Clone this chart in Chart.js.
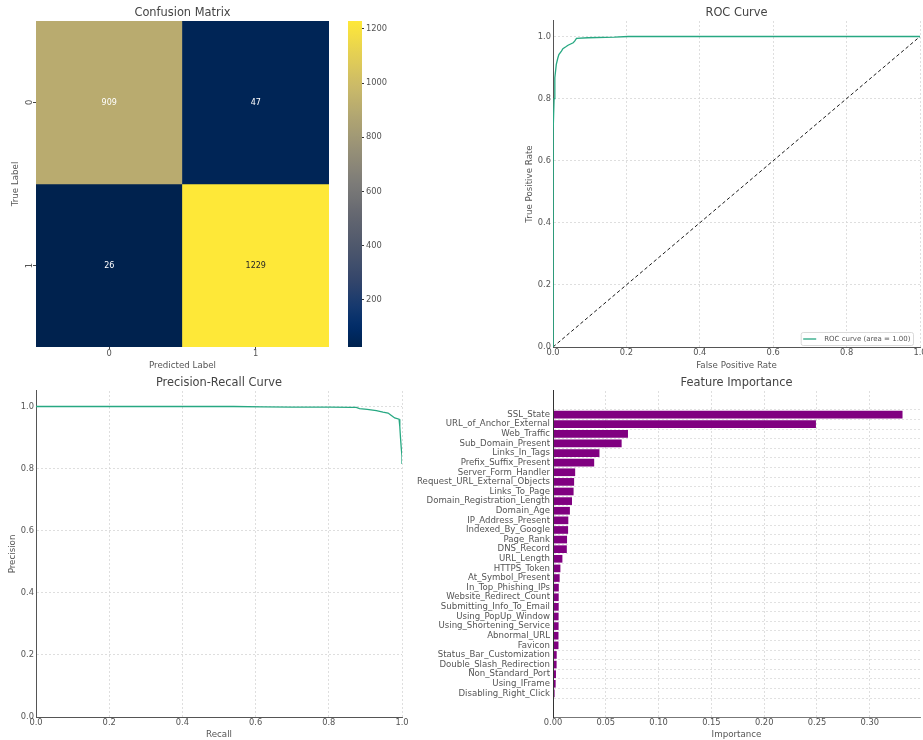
<!DOCTYPE html>
<html>
<head>
<meta charset="utf-8">
<script src="https://cdn.jsdelivr.net/npm/chart.js@4.4.1/dist/chart.umd.min.js"></script>
<style>
  html, body { margin: 0; padding: 0; background: #fff; }
  #board { position: relative; width: 923px; height: 740px; overflow: hidden; background: #fff; }
  #board canvas { position: absolute; }
</style>
</head>
<body>
<div id="board">
  <canvas id="cm" width="340" height="372" style="left:0;top:0"></canvas>
  <canvas id="cbar" width="60" height="372" style="left:340px;top:0"></canvas>
  <canvas id="roc" width="423" height="372" style="left:500px;top:0"></canvas>
  <canvas id="pr" width="410" height="370" style="left:0;top:370px"></canvas>
  <canvas id="fi" width="513" height="370" style="left:410px;top:370px"></canvas>
</div>
<script>
// ---- confusion matrix ----
const classLabels = ['0', '1'];
const cmRow0 = [909, 47];
const cmRow1 = [26, 1229];
const colorbarTicks = [200, 400, 600, 800, 1000, 1200];

// ---- ROC curve ----
const rocFpr = [0, 0, 0.001, 0.003, 0.005, 0.009, 0.013, 0.016, 0.023, 0.027, 0.035, 0.041, 0.055, 0.059, 0.064, 0.095, 0.168, 0.205, 1.0];
const rocTpr = [0, 0.55, 0.70, 0.80, 0.867, 0.91, 0.93, 0.942, 0.953, 0.961, 0.967, 0.972, 0.980, 0.985, 0.994, 0.996, 0.998, 1.0, 1.0];
const rocAuc = 1.00;
const chanceFpr = [0, 1];
const chanceTpr = [0, 1];

// ---- precision-recall curve ----
const prRecall = [0, 0.54, 0.62, 0.70, 0.76, 0.803, 0.86, 0.875, 0.884, 0.905, 0.930, 0.948, 0.962, 0.971, 0.980, 0.992, 0.994, 0.996, 0.998, 1.0, 1.0];
const prPrecision = [1.0, 1.0, 0.999, 0.998, 0.998, 0.998, 0.997, 0.997, 0.993, 0.991, 0.987, 0.982, 0.979, 0.971, 0.963, 0.959, 0.935, 0.898, 0.866, 0.84, 0.815];

// ---- feature importance ----
const featureNames = [
  'SSL_State', 'URL_of_Anchor_External', 'Web_Traffic', 'Sub_Domain_Present',
  'Links_In_Tags', 'Prefix_Suffix_Present', 'Server_Form_Handler',
  'Request_URL_External_Objects', 'Links_To_Page', 'Domain_Registration_Length',
  'Domain_Age', 'IP_Address_Present', 'Indexed_By_Google', 'Page_Rank',
  'DNS_Record', 'URL_Length', 'HTTPS_Token', 'At_Symbol_Present',
  'In_Top_Phishing_IPs', 'Website_Redirect_Count', 'Submitting_Info_To_Email',
  'Using_PopUp_Window', 'Using_Shortening_Service', 'Abnormal_URL', 'Favicon',
  'Status_Bar_Customization', 'Double_Slash_Redirection', 'Non_Standard_Port',
  'Using_IFrame', 'Disabling_Right_Click'
];
const featureImportance = [
  0.331, 0.249, 0.071, 0.065, 0.044, 0.039, 0.021, 0.020, 0.0195, 0.018,
  0.016, 0.0145, 0.0143, 0.0133, 0.0131, 0.0089, 0.0070, 0.0063, 0.0055, 0.0054,
  0.0054, 0.0053, 0.0053, 0.0052, 0.0052, 0.0035, 0.0034, 0.0028, 0.0025, 0.0015
];
const unitTicks = [0, 0.2, 0.4, 0.6, 0.8, 1.0];
const importanceTicks = [0, 0.05, 0.10, 0.15, 0.20, 0.25, 0.30];

// ---- shared styling ----
Chart.defaults.font.family = '"DejaVu Sans", sans-serif';
Chart.defaults.color = '#555';
Chart.defaults.animation = false;
Chart.defaults.responsive = false;
Chart.defaults.plugins.legend.display = false;
Chart.defaults.plugins.tooltip.enabled = false;

const TITLE_FONT = { size: 11.4, weight: 'normal' };
const TICK_FONT = { size: 8.3 };
const NAME_FONT = { size: 8.6 };
const LABEL_FONT = { size: 8.7 };
const GRID_COLOR = '#d6d6d6';
const SPINE_COLOR = '#555';
const CURVE_COLOR = '#27a882';

function panelTitle(text) {
  return { display: true, text, fullSize: false, color: '#444', font: TITLE_FONT, padding: { top: 6, bottom: 1.3 } };
}
function axisTitle(text, padding) {
  return { display: true, text, color: '#555', font: LABEL_FONT, padding };
}
// pin an axis box to a fixed size so the plot areas line up across panels
function fixBox(w, h) {
  return s => {
    if (w !== undefined) s.width = w;
    if (h !== undefined) s.height = h;
    s.paddingLeft = s.paddingRight = s.paddingTop = s.paddingBottom = 0;
  };
}
function fixedTicks(values) {
  return s => { s.ticks = values.map(v => ({ value: v })); };
}

// cividis colour map, piecewise linear
const CIVIDIS = [
  [0.00, [0, 34, 78]], [0.06, [0, 44, 104]], [0.12, [20, 56, 110]], [0.20, [50, 69, 107]],
  [0.30, [76, 86, 108]], [0.40, [99, 102, 112]], [0.50, [124, 123, 120]], [0.60, [149, 143, 119]],
  [0.70, [175, 164, 114]], [0.80, [203, 186, 104]], [0.90, [229, 208, 83]], [1.00, [254, 232, 56]]
];
function cividisRGB(t) {
  t = Math.max(0, Math.min(1, t));
  for (let i = 1; i < CIVIDIS.length; i++) {
    const [t1, c1] = CIVIDIS[i];
    const [t0, c0] = CIVIDIS[i - 1];
    if (t <= t1) {
      const f = (t - t0) / (t1 - t0);
      return c0.map((v, k) => v + (c1[k] - v) * f);
    }
  }
  return CIVIDIS[CIVIDIS.length - 1][1];
}
function cividis(t) {
  const [r, g, b] = cividisRGB(t).map(Math.round);
  return `rgb(${r},${g},${b})`;
}
function luminance(rgb) {
  const lin = rgb.map(v => { v /= 255; return v <= 0.03928 ? v / 12.92 : Math.pow((v + 0.055) / 1.055, 2.4); });
  return 0.2126 * lin[0] + 0.7152 * lin[1] + 0.0722 * lin[2];
}

// ---- confusion matrix heatmap ----
const cmRows = [cmRow0, cmRow1];
const cmMin = Math.min(...cmRows.flat());
const cmMax = Math.max(...cmRows.flat());
const norm = v => (v - cmMin) / (cmMax - cmMin);

const cellText = {
  id: 'cellText',
  afterDatasetsDraw(chart) {
    const ctx = chart.ctx;
    ctx.save();
    ctx.font = '8px "DejaVu Sans"';
    ctx.textAlign = 'center';
    ctx.textBaseline = 'middle';
    cmRows.forEach((row, r) => {
      chart.getDatasetMeta(r).data.forEach((bar, c) => {
        const v = row[c];
        ctx.fillStyle = luminance(cividisRGB(norm(v))) > 0.408 ? '#262626' : '#ffffff';
        ctx.fillText(String(v), bar.x, (bar.y + bar.base) / 2);
      });
    });
    ctx.restore();
  }
};
// row labels on the left axis are drawn turned on their side
const rowLabels = {
  id: 'rowLabels',
  afterDraw(chart) {
    const ys = chart.scales.y;
    const ctx = chart.ctx;
    ctx.save();
    ctx.font = '8.3px "DejaVu Sans"';
    ctx.fillStyle = '#555';
    ctx.textAlign = 'center';
    ctx.textBaseline = 'middle';
    classLabels.forEach((lab, i) => {
      ctx.save();
      ctx.translate(ys.right - 6.5, ys.getPixelForValue(i + 0.5));
      ctx.rotate(-Math.PI / 2);
      ctx.fillText(lab, 0, 0);
      ctx.restore();
    });
    ctx.restore();
  }
};

new Chart(document.getElementById('cm'), {
  type: 'bar',
  data: {
    labels: classLabels,
    datasets: cmRows.map((row, r) => ({
      label: 'True ' + classLabels[r],
      data: row.map(() => [r, r + 1]),
      backgroundColor: row.map(v => cividis(norm(v))),
      borderWidth: 0,
      grouped: false,
      barPercentage: 1,
      categoryPercentage: 1
    }))
  },
  options: {
    layout: { padding: { left: 0, right: 11, top: 0, bottom: 0 } },
    plugins: { title: panelTitle('Confusion Matrix') },
    scales: {
      x: {
        afterFit: fixBox(undefined, 25),
        ticks: { font: TICK_FONT, padding: 0, maxRotation: 0 },
        grid: { offset: false, drawOnChartArea: false, drawTicks: true, tickLength: 2, tickColor: '#444' },
        border: { display: false },
        title: axisTitle('Predicted Label', { top: 0, bottom: 1.3 })
      },
      y: {
        type: 'linear', min: 0, max: 2, reverse: true, bounds: 'data',
        afterBuildTicks: fixedTicks(classLabels.map((_, i) => i + 0.5)),
        afterFit: fixBox(36, undefined),
        ticks: { display: false },
        grid: { drawOnChartArea: false, drawTicks: true, tickLength: 3, tickColor: '#444' },
        border: { display: false },
        title: axisTitle('True Label', { top: 10.8, bottom: 0 })
      }
    }
  },
  plugins: [cellText, rowLabels]
});

// ---- colour bar ----
new Chart(document.getElementById('cbar'), {
  type: 'bar',
  data: {
    labels: [''],
    datasets: [{
      data: [[cmMin, cmMax]],
      borderWidth: 0,
      barPercentage: 1,
      categoryPercentage: 1,
      backgroundColor(ctx) {
        const chart = ctx.chart;
        const ys = chart.scales.y;
        if (!chart.chartArea || !ys) return cividis(0.5);
        const g = chart.ctx.createLinearGradient(0, ys.getPixelForValue(cmMin), 0, ys.getPixelForValue(cmMax));
        for (let i = 0; i <= 40; i++) g.addColorStop(i / 40, cividis(i / 40));
        return g;
      }
    }]
  },
  options: {
    layout: { padding: { left: 8, right: 0, top: 21, bottom: 25 } },
    scales: {
      x: { display: false },
      y: {
        position: 'right', min: cmMin, max: cmMax, bounds: 'data',
        afterBuildTicks: fixedTicks(colorbarTicks),
        afterFit: fixBox(38, undefined),
        ticks: { font: TICK_FONT, padding: 2, callback: v => String(v) },
        grid: { drawOnChartArea: false, drawTicks: true, tickLength: 2, tickColor: '#333' },
        border: { display: false }
      }
    }
  }
});

// ---- line panels (ROC and PR) ----
function unitScales(xLabel, yLabel, yTitlePad, yWidth, xHeight) {
  return {
    x: {
      type: 'linear', min: 0, max: 1, bounds: 'data',
      afterBuildTicks: fixedTicks(unitTicks),
      afterFit: fixBox(undefined, xHeight),
      ticks: { font: TICK_FONT, padding: 1, maxRotation: 0, autoSkip: false, callback: v => v.toFixed(1) },
      grid: { color: GRID_COLOR, lineWidth: 0.8, drawTicks: false },
      border: { color: SPINE_COLOR, width: 1, dash: [2, 2] },
      title: axisTitle(xLabel, { top: 0, bottom: xHeight === 25 ? 1.3 : 0 })
    },
    y: {
      type: 'linear', min: 0, max: 1.05, bounds: 'data',
      afterBuildTicks: fixedTicks(unitTicks),
      afterFit: fixBox(yWidth, undefined),
      ticks: { font: TICK_FONT, padding: 2, autoSkip: false, callback: v => v.toFixed(1) },
      grid: { color: GRID_COLOR, lineWidth: 0.8, drawTicks: false },
      border: { color: SPINE_COLOR, width: 1, dash: [2, 2] },
      title: axisTitle(yLabel, { top: yTitlePad, bottom: 0 })
    }
  };
}

const rocLegend = {
  id: 'rocLegend',
  afterDatasetsDraw(chart) {
    const ds = chart.data.datasets[0];
    const { ctx, chartArea: a } = chart;
    ctx.save();
    ctx.font = '7px "DejaVu Sans"';
    const tw = ctx.measureText(ds.label).width;
    const pad = 2.5, lineW = 13, gap = 8, h = 13;
    const w = pad + lineW + gap + tw + pad;
    const x = a.right - 7 - w;
    const y = a.bottom - 2 - h;
    ctx.beginPath();
    ctx.roundRect(x + 0.5, y + 0.5, w, h, 2);
    ctx.fillStyle = 'rgba(255,255,255,0.85)';
    ctx.fill();
    ctx.strokeStyle = '#d0d0d0';
    ctx.lineWidth = 0.8;
    ctx.stroke();
    ctx.beginPath();
    ctx.moveTo(x + pad, y + h / 2 + 0.5);
    ctx.lineTo(x + pad + lineW, y + h / 2 + 0.5);
    ctx.strokeStyle = ds.borderColor;
    ctx.lineWidth = 1.3;
    ctx.stroke();
    ctx.fillStyle = '#555';
    ctx.textBaseline = 'middle';
    ctx.textAlign = 'left';
    ctx.fillText(ds.label, x + pad + lineW + gap, y + h / 2 + 0.5);
    ctx.restore();
  }
};

new Chart(document.getElementById('roc'), {
  type: 'line',
  data: {
    datasets: [
      {
        label: `ROC curve (area = ${rocAuc.toFixed(2)})`,
        data: rocFpr.map((x, i) => ({ x, y: rocTpr[i] })),
        borderColor: CURVE_COLOR, borderWidth: 1.3, pointRadius: 0, tension: 0
      },
      {
        label: 'Chance',
        data: chanceFpr.map((x, i) => ({ x, y: chanceTpr[i] })),
        borderColor: '#1a1a1a', borderWidth: 1, borderDash: [3.5, 2.5], pointRadius: 0, tension: 0
      }
    ]
  },
  options: {
    layout: { padding: { left: 0, right: 3, top: 0, bottom: 0 } },
    plugins: { title: panelTitle('ROC Curve') },
    scales: unitScales('False Positive Rate', 'True Positive Rate', 24.1, 53, 25)
  },
  plugins: [rocLegend]
});

new Chart(document.getElementById('pr'), {
  type: 'line',
  data: {
    datasets: [{
      label: 'Precision-Recall curve',
      data: prRecall.map((x, i) => ({ x, y: prPrecision[i] })),
      borderColor: CURVE_COLOR, borderWidth: 1.3, pointRadius: 0, tension: 0
    }]
  },
  options: {
    layout: { padding: { left: 0, right: 8, top: 0, bottom: 0 } },
    plugins: { title: panelTitle('Precision-Recall Curve') },
    scales: unitScales('Recall', 'Precision', 7.1, 36, 23)
  }
});

// ---- feature importance bars ----
const nFeat = featureNames.length;
const barFrac = 0.8;
const yLo = -barFrac / 2 - 0.05 * (nFeat - 1 + barFrac);
const yHi = nFeat - 1 + barFrac / 2 + 0.05 * (nFeat - 1 + barFrac);

new Chart(document.getElementById('fi'), {
  type: 'bar',
  data: {
    datasets: [{
      label: 'Importance',
      data: featureImportance.map((v, i) => ({ x: v, y: i })),
      backgroundColor: '#800080',
      borderWidth: 0,
      barPercentage: barFrac,
      categoryPercentage: 1
    }]
  },
  options: {
    indexAxis: 'y',
    layout: { padding: { left: 0, right: 3, top: 0, bottom: 0 } },
    plugins: { title: panelTitle('Feature Importance') },
    scales: {
      x: {
        type: 'linear', min: 0, max: Math.max(...featureImportance) * 1.05, bounds: 'data',
        afterBuildTicks: fixedTicks(importanceTicks),
        afterFit: fixBox(undefined, 23),
        ticks: { font: TICK_FONT, padding: 1, maxRotation: 0, autoSkip: false, callback: v => v.toFixed(2) },
        grid: { color: GRID_COLOR, lineWidth: 0.8, drawTicks: false },
        border: { color: '#777', width: 1, dash: [2, 2] },
        title: axisTitle('Importance', { top: 0, bottom: 0 })
      },
      y: {
        type: 'linear', min: yLo, max: yHi, reverse: true, bounds: 'data',
        afterBuildTicks: fixedTicks(featureNames.map((_, i) => i)),
        afterFit: fixBox(143, undefined),
        ticks: { font: NAME_FONT, padding: 3, autoSkip: false, callback: v => featureNames[v] },
        // horizontal guide lines sit over the bars; the spine is drawn after them
        grid: { color: '#dadada', lineWidth: 0.8, drawTicks: false, z: 1 },
        border: { color: '#333', width: 1, dash: [2, 2], z: 2 }
      }
    }
  }
});
</script>
</body>
</html>
